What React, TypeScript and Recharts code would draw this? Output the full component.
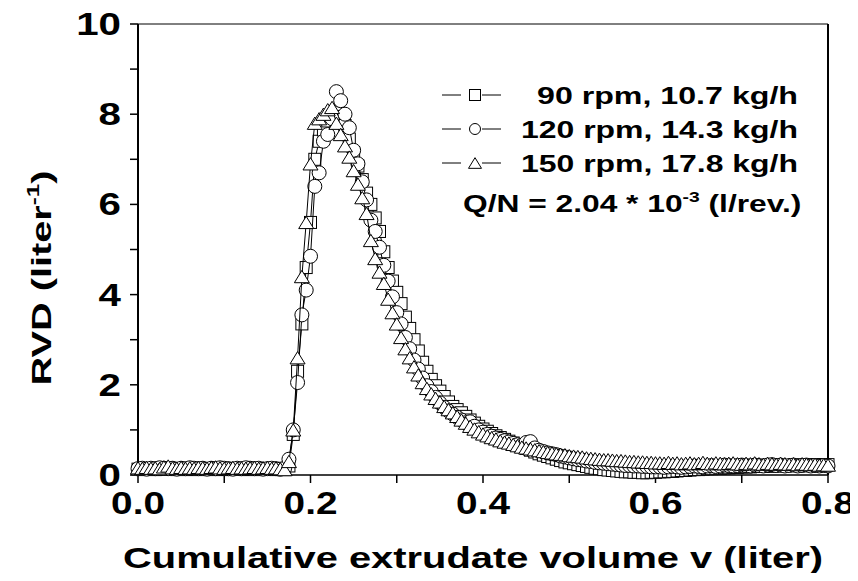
import React from 'react';
import { ScatterChart, Scatter, XAxis, YAxis, Label } from 'recharts';

// cumulative extrudate volume (liter)
const volume = [
  0, 0.005, 0.01, 0.015, 0.02, 0.025, 0.03, 0.035, 0.04, 0.045,
  0.05, 0.055, 0.06, 0.065, 0.07, 0.075, 0.08, 0.085, 0.09, 0.095,
  0.1, 0.105, 0.11, 0.115, 0.12, 0.125, 0.13, 0.135, 0.14, 0.145,
  0.15, 0.155, 0.16, 0.165, 0.17, 0.175, 0.18, 0.185, 0.19, 0.195,
  0.2, 0.205, 0.21, 0.215, 0.22, 0.225, 0.23, 0.235, 0.24, 0.245,
  0.25, 0.255, 0.26, 0.265, 0.27, 0.275, 0.28, 0.285, 0.29, 0.295,
  0.3, 0.305, 0.31, 0.315, 0.32, 0.325, 0.33, 0.335, 0.34, 0.345,
  0.35, 0.355, 0.36, 0.365, 0.37, 0.375, 0.38, 0.385, 0.39, 0.395,
  0.4, 0.405, 0.41, 0.415, 0.42, 0.425, 0.43, 0.435, 0.44, 0.445,
  0.45, 0.455, 0.46, 0.465, 0.47, 0.475, 0.48, 0.485, 0.49, 0.495,
  0.5, 0.505, 0.51, 0.515, 0.52, 0.525, 0.53, 0.535, 0.54, 0.545,
  0.55, 0.555, 0.56, 0.565, 0.57, 0.575, 0.58, 0.585, 0.59, 0.595,
  0.6, 0.605, 0.61, 0.615, 0.62, 0.625, 0.63, 0.635, 0.64, 0.645,
  0.65, 0.655, 0.66, 0.665, 0.67, 0.675, 0.68, 0.685, 0.69, 0.695,
  0.7, 0.705, 0.71, 0.715, 0.72, 0.725, 0.73, 0.735, 0.74, 0.745,
  0.75, 0.755, 0.76, 0.765, 0.77, 0.775, 0.78, 0.785, 0.79, 0.795,
  0.8,
];

// 90 rpm, 10.7 kg/h (squares)
const rvd90 = [
  0.13, 0.12, 0.14, 0.13, 0.12, 0.14, 0.13, 0.15, 0.13, 0.12,
  0.14, 0.13, 0.12, 0.14, 0.13, 0.12, 0.13, 0.14, 0.12, 0.13,
  0.14, 0.12, 0.13, 0.14, 0.13, 0.12, 0.14, 0.13, 0.12, 0.13,
  0.14, 0.13, 0.12, 0.13, 0.12, 0.2, 0.9, 2.3, 3.35, 4.6,
  5.6, 7.0, 7.4, 7.65, 7.85, 7.95, 8.05, 7.95, 7.75, 7.45,
  7.15, 6.85, 6.55, 6.25, 6.0, 5.7, 5.4, 4.95, 4.6, 4.3,
  4.05, 3.8, 3.5, 3.25, 3.0, 2.75, 2.5, 2.3, 2.12, 1.98,
  1.86, 1.74, 1.62, 1.52, 1.45, 1.38, 1.3, 1.22, 1.15, 1.08,
  1.02, 0.97, 0.92, 0.87, 0.83, 0.79, 0.75, 0.71, 0.67, 0.63,
  0.59, 0.55, 0.51, 0.47, 0.44, 0.41, 0.38, 0.35, 0.32, 0.29,
  0.27, 0.25, 0.23, 0.21, 0.19, 0.17, 0.15, 0.14, 0.12, 0.11,
  0.1, 0.09, 0.08, 0.07, 0.07, 0.06, 0.06, 0.05, 0.05, 0.06,
  0.06, 0.07, 0.07, 0.08, 0.08, 0.09, 0.1, 0.1, 0.11, 0.12,
  0.12, 0.13, 0.14, 0.14, 0.15, 0.15, 0.16, 0.16, 0.17, 0.17,
  0.18, 0.18, 0.18, 0.19, 0.19, 0.19, 0.2, 0.2, 0.2, 0.21,
  0.21, 0.21, 0.21, 0.22, 0.22, 0.22, 0.22, 0.23, 0.23, 0.23,
  0.23,
];

// 120 rpm, 14.3 kg/h (circles)
const rvd120 = [
  0.14, 0.15, 0.13, 0.15, 0.14, 0.16, 0.15, 0.14, 0.15, 0.13,
  0.15, 0.14, 0.16, 0.15, 0.14, 0.15, 0.13, 0.15, 0.14, 0.16,
  0.15, 0.14, 0.13, 0.15, 0.14, 0.16, 0.15, 0.14, 0.15, 0.13,
  0.14, 0.15, 0.14, 0.13, 0.15, 0.35, 1.0, 2.05, 3.55, 4.1,
  4.85, 6.4, 6.7, 7.4, 7.55, 7.9, 8.5, 8.3, 8.0, 7.7,
  7.2, 6.9, 6.5, 6.1, 5.65, 5.4, 5.05, 4.65, 4.3, 3.95,
  3.6, 3.35, 3.05, 2.8, 2.55, 2.35, 2.15, 1.98, 1.85, 1.72,
  1.6, 1.5, 1.42, 1.35, 1.28, 1.22, 1.16, 1.18, 1.08, 1.0,
  0.95, 0.9, 0.86, 0.82, 0.79, 0.76, 0.73, 0.7, 0.67, 0.66,
  0.72, 0.74, 0.6, 0.55, 0.52, 0.49, 0.47, 0.45, 0.42, 0.4,
  0.38, 0.36, 0.34, 0.33, 0.31, 0.3, 0.28, 0.27, 0.26, 0.25,
  0.24, 0.23, 0.22, 0.21, 0.21, 0.2, 0.2, 0.19, 0.19, 0.18,
  0.18, 0.18, 0.17, 0.18, 0.19, 0.18, 0.17, 0.18, 0.19, 0.2,
  0.19, 0.18, 0.2, 0.21, 0.19, 0.2, 0.22, 0.21, 0.2, 0.21,
  0.22, 0.21, 0.2, 0.22, 0.21, 0.2, 0.22, 0.23, 0.21, 0.22,
  0.2, 0.21, 0.22, 0.2, 0.21, 0.22, 0.2, 0.21, 0.2, 0.21,
  0.2,
];

// 150 rpm, 17.8 kg/h (triangles)
const rvd150 = [
  0.16, 0.15, 0.17, 0.15, 0.16, 0.14, 0.18, 0.2, 0.16, 0.15,
  0.17, 0.15, 0.16, 0.15, 0.17, 0.16, 0.15, 0.17, 0.18, 0.16,
  0.15, 0.16, 0.17, 0.15, 0.16, 0.15, 0.16, 0.17, 0.15, 0.16,
  0.17, 0.15, 0.16, 0.14, 0.12, 0.3, 1.0, 2.6, 4.4, 5.6,
  6.9, 7.8, 7.9, 8.0, 8.1, 8.15, 7.8, 7.55, 7.3, 7.05,
  6.75, 6.45, 6.15, 5.8, 5.2, 4.8, 4.5, 4.25, 3.9, 3.6,
  3.35, 3.05, 2.8, 2.6, 2.4, 2.22, 2.05, 1.92, 1.8, 1.7,
  1.62, 1.52, 1.45, 1.38, 1.3, 1.22, 1.15, 1.08, 1.02, 0.96,
  0.91, 0.87, 0.83, 0.8, 0.76, 0.73, 0.71, 0.68, 0.65, 0.62,
  0.6, 0.58, 0.56, 0.54, 0.52, 0.5, 0.49, 0.47, 0.46, 0.45,
  0.43, 0.42, 0.41, 0.4, 0.38, 0.37, 0.36, 0.35, 0.34, 0.34,
  0.33, 0.32, 0.32, 0.31, 0.3, 0.3, 0.29, 0.29, 0.28, 0.28,
  0.27, 0.27, 0.26, 0.28, 0.26, 0.27, 0.25, 0.26, 0.27, 0.25,
  0.26, 0.28, 0.26, 0.25, 0.27, 0.26, 0.25, 0.26, 0.27, 0.25,
  0.24, 0.26, 0.25, 0.27, 0.25, 0.24, 0.26, 0.25, 0.24, 0.26,
  0.25, 0.24, 0.25, 0.23, 0.25, 0.24, 0.23, 0.24, 0.22, 0.23,
  0.22,
];

const xTicks = [0, 0.1, 0.2, 0.3, 0.4, 0.5, 0.6, 0.7, 0.8];
const xTickLabels = ['0.0', '', '0.2', '', '0.4', '', '0.6', '', '0.8'];
const yTicks = [0, 1, 2, 3, 4, 5, 6, 7, 8, 9, 10];

const seriesNames = ['90 rpm, 10.7 kg/h', '120 rpm, 14.3 kg/h', '150 rpm, 17.8 kg/h'];

const FONT = '"Liberation Sans", Arial, Helvetica, sans-serif';

const toRows = (ys: number[]) => volume.map((v, i) => ({ v, r: ys[i] }));

const Square = ({ cx, cy, s = 12 }: any) => (
  <rect x={cx - s / 2} y={cy - s / 2} width={s} height={s} fill="#fff" stroke="#000" strokeWidth={1} />
);
const Circle = ({ cx, cy, s = 14 }: any) => (
  <circle cx={cx} cy={cy} r={s / 2} fill="#fff" stroke="#000" strokeWidth={1} />
);
const Triangle = ({ cx, cy, s = 15 }: any) => {
  const h = s * 0.82;
  return (
    <polygon
      points={`${cx},${cy - h / 2} ${cx + s / 2},${cy + h / 2} ${cx - s / 2},${cy + h / 2}`}
      fill="#fff"
      stroke="#000"
      strokeWidth={1}
    />
  );
};

const BottomTick = ({ x, y, index }: any) => {
  const label = xTickLabels[index] ?? '';
  if (!label) return <g />;
  return (
    <text
      transform={`translate(${x},${y + 29}) scale(1.25,1)`}
      textAnchor="middle"
      fontSize={31}
      fontWeight="bold"
      fontFamily={FONT}
      fill="#000"
    >
      {label}
    </text>
  );
};

const LeftTick = ({ x, y, payload }: any) => {
  if (payload.value % 2 !== 0) return <g />;
  return (
    <text
      transform={`translate(${x - 7},${y + 11}) scale(1.3,1)`}
      textAnchor="end"
      fontSize={31}
      fontWeight="bold"
      fontFamily={FONT}
      fill="#000"
    >
      {payload.value}
    </text>
  );
};

const LegendOverlay = () => {
  const rows = [95, 129, 163];
  const textX = [537, 521, 521];
  const textW = [261, 277, 277];
  const marks = [Square, Circle, Triangle];
  const sizes = [11, 11, 13];
  return (
    <svg
      width={858}
      height={581}
      style={{ position: 'absolute', left: 0, top: 0, pointerEvents: 'none' }}
    >
      {rows.map((y, i) => {
        const Mark = marks[i];
        return (
          <g key={i}>
            <line x1={442} x2={461} y1={y} y2={y} stroke="#000" strokeWidth={1} />
            <line x1={482} x2={501} y1={y} y2={y} stroke="#000" strokeWidth={1} />
            <Mark cx={475} cy={y} s={sizes[i]} />
            <text
              x={textX[i]}
              y={y + 8.5}
              fontSize={23}
              fontWeight="bold"
              fontFamily={FONT}
              textLength={textW[i]}
              lengthAdjust="spacingAndGlyphs"
              fill="#000"
            >
              {seriesNames[i]}
            </text>
          </g>
        );
      })}
      <text
        transform="translate(463,212) scale(1.38,1)"
        fontSize={23}
        fontWeight="bold"
        fontFamily={FONT}
        fill="#000"
      >
        Q/N = 2.04 * 10
        <tspan dy={-10} fontSize={14}>-3</tspan>
        <tspan dy={10} fontSize={23}> (l/rev.)</tspan>
      </text>
    </svg>
  );
};

export default function App() {
  return (
    <div style={{ position: 'relative', width: 858, height: 581, margin: -8, background: '#fff' }}>
      <ScatterChart width={858} height={581} margin={{ top: 24, right: 30, bottom: 26, left: 58 }}>
        <XAxis
          xAxisId="b"
          dataKey="v"
          type="number"
          domain={[0, 0.8]}
          ticks={xTicks}
          interval={0}
          height={80}
          tickSize={8}
          tickMargin={2}
          tick={<BottomTick />}
          axisLine={{ stroke: '#000', strokeWidth: 1.5 }}
          tickLine={{ stroke: '#000', strokeWidth: 1.5 }}
        >
          <Label
            content={() => (
              <text
                x={123}
                y={568}
                fontSize={30}
                fontWeight="bold"
                fontFamily={FONT}
                textLength={700}
                lengthAdjust="spacingAndGlyphs"
                fill="#000"
              >
                Cumulative extrudate volume v (liter)
              </text>
            )}
          />
        </XAxis>
        <XAxis
          xAxisId="t"
          orientation="top"
          type="number"
          domain={[0, 0.8]}
          ticks={xTicks}
          interval={0}
          height={1}
          mirror
          tick={false}
          tickSize={4}
          axisLine={{ stroke: '#000', strokeWidth: 1 }}
          tickLine={{ stroke: '#000', strokeWidth: 1 }}
        />
        <YAxis
          yAxisId="l"
          dataKey="r"
          type="number"
          domain={[0, 10]}
          ticks={yTicks}
          interval={0}
          width={80}
          tickSize={8}
          tickMargin={2}
          tick={<LeftTick />}
          axisLine={{ stroke: '#000', strokeWidth: 2 }}
          tickLine={{ stroke: '#000', strokeWidth: 1.5 }}
        >
          <Label
            content={() => (
              <text
                transform="translate(51,278) rotate(-90) scale(1.42,1)"
                textAnchor="middle"
                fontSize={28}
                fontWeight="bold"
                fontFamily={FONT}
                fill="#000"
              >
                RVD (liter
                <tspan dy={-12} fontSize={17}>-1</tspan>
                <tspan dy={12} fontSize={28}>)</tspan>
              </text>
            )}
          />
        </YAxis>
        <YAxis
          yAxisId="r"
          orientation="right"
          type="number"
          domain={[0, 10]}
          ticks={yTicks}
          interval={0}
          width={1}
          mirror
          tick={false}
          tickSize={4}
          axisLine={{ stroke: '#000', strokeWidth: 2 }}
          tickLine={{ stroke: '#000', strokeWidth: 1 }}
        />
        <Scatter
          name={seriesNames[0]}
          data={toRows(rvd90)}
          xAxisId="b"
          yAxisId="l"
          line={{ stroke: '#000', strokeWidth: 1 }}
          shape={(p: any) => <Square cx={p.cx} cy={p.cy} />}
          isAnimationActive={false}
        />
        <Scatter
          name={seriesNames[1]}
          data={toRows(rvd120)}
          xAxisId="b"
          yAxisId="l"
          line={{ stroke: '#000', strokeWidth: 1 }}
          shape={(p: any) => <Circle cx={p.cx} cy={p.cy} />}
          isAnimationActive={false}
        />
        <Scatter
          name={seriesNames[2]}
          data={toRows(rvd150)}
          xAxisId="b"
          yAxisId="l"
          line={{ stroke: '#000', strokeWidth: 1 }}
          shape={(p: any) => <Triangle cx={p.cx} cy={p.cy} />}
          isAnimationActive={false}
        />
      </ScatterChart>
      <LegendOverlay />
    </div>
  );
}
